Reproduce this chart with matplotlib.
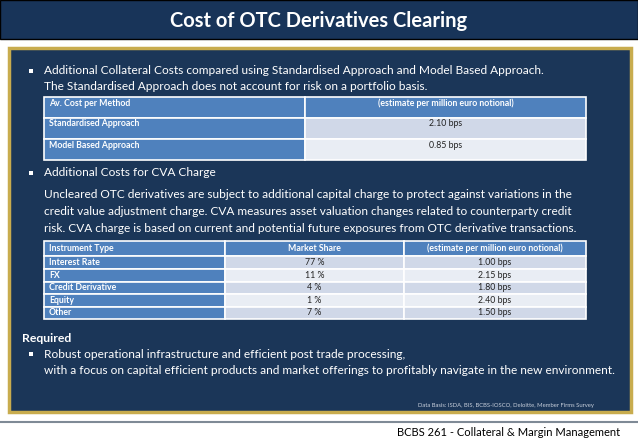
import matplotlib.pyplot as plt
from matplotlib.patches import Rectangle

FONT = "Lato"
NAVY = "#1b3658"
HEAD = "#183459"
BLUE = "#4f81bd"
LIGHT1 = "#d0d8e8"
LIGHT2 = "#e9edf4"
GOLD = "#c8ac4e"

title = "Cost of OTC Derivatives Clearing"
bullet1 = ["Additional Collateral Costs compared using Standardised Approach and Model Based Approach.",
           "The Standardised Approach does not account for risk on a portfolio basis."]
t1_header = ["Av. Cost per Method", "(estimate per million euro notional)"]
t1_methods = ["Standardised Approach", "Model Based Approach"]
t1_costs = ["2.10 bps", "0.85 bps"]
bullet2 = "Additional Costs for CVA Charge"
para = ["Uncleared OTC derivatives are subject to additional capital charge to protect against variations in the",
        "credit value adjustment charge. CVA measures asset valuation changes related to counterparty credit",
        "risk. CVA charge is based on current and potential future exposures from OTC derivative transactions."]
t2_header = ["Instrument Type", "Market Share", "(estimate per million euro notional)"]
t2_types = ["Interest Rate", "FX", "Credit Derivative", "Equity", "Other"]
t2_share = ["77 %", "11 %", "4 %", "1 %", "7 %"]
t2_costs = ["1.00 bps", "2.15 bps", "1.80 bps", "2.40 bps", "1.50 bps"]
req_title = "Required"
req_lines = ["Robust operational infrastructure and efficient post trade processing,",
             "with a focus on capital efficient products and market offerings to profitably navigate in the new environment."]
source = "Data Basis: ISDA, BIS, BCBS-IOSCO, Deloitte, Member Firms Survey"
footer = "BCBS 261 - Collateral & Margin Management"

fig = plt.figure(figsize=(6.38, 4.42), dpi=100)
ax = fig.add_axes([0, 0, 1, 1])
ax.set_xlim(0, 638)
ax.set_ylim(442, 0)
ax.axis("off")

# header band
ax.add_patch(Rectangle((0, 0), 638, 39, facecolor=HEAD, edgecolor="black", lw=1))
ax.text(319, 21, title, color="white", fontsize=14.5, fontweight="bold", family=FONT,
        ha="center", va="center")

# main panel
ax.add_patch(Rectangle((9, 48), 622, 364, facecolor=NAVY, edgecolor=GOLD, lw=2.5))

def txt(x, y, s, size=8.6, **kw):
    ax.text(x, y, s, color=kw.pop("color", "white"), fontsize=size, family=FONT,
            va="center", **kw)

def bullet(x, y):
    ax.add_patch(Rectangle((x - 1.8, y - 1.8), 3.6, 3.6, facecolor="white", edgecolor="none"))

bullet(31, 71)
for i, s in enumerate(bullet1):
    txt(44, 71 + i * 16, s)

def table(x0, cols, y0, heights, header, rows):
    y = y0
    allrows = [header] + rows
    for r, (cells, h) in enumerate(zip(allrows, heights)):
        for c in range(len(cols) - 1):
            if r == 0 or c == 0:
                fc = BLUE
            else:
                fc = LIGHT1 if r % 2 == 1 else LIGHT2
            ax.add_patch(Rectangle((cols[c], y), cols[c + 1] - cols[c], h,
                                   facecolor=fc, edgecolor="white", lw=1.2))
            col = "white" if fc == BLUE else "#222222"
            if c == 0:
                ax.text(cols[c] + 5, y + 6 if h > 15 else y + h / 2, cells[c], color=col,
                        fontsize=6.3, family=FONT, fontweight="bold", va="center")
            else:
                ax.text((cols[c] + cols[c + 1]) / 2, y + 6 if h > 15 else y + h / 2, cells[c],
                        color=col, fontsize=6.3, family=FONT,
                        fontweight="bold" if r == 0 else "normal", ha="center", va="center")
        y += h

table(44, [44, 305, 586], 97, [21, 21, 21], t1_header,
      [[m, c] for m, c in zip(t1_methods, t1_costs)])

bullet(31, 173)
txt(44, 173, bullet2)
for i, s in enumerate(para):
    txt(44, 195 + i * 16.5, s)

table(44, [44, 225, 404, 586], 241, [15, 13, 12.5, 12.5, 12.5, 12.5], t2_header,
      [[a, b, c] for a, b, c in zip(t2_types, t2_share, t2_costs)])

txt(22, 338, req_title, size=8.8, fontweight="bold")
bullet(31, 354)
for i, s in enumerate(req_lines):
    txt(44, 354 + i * 16, s)

ax.text(594, 405, source, color="#c8d0dc", fontsize=4.2, family=FONT, ha="right", va="center")

ax.plot([0, 638], [422, 422], color="#7f8a96", lw=1.5)
ax.text(620, 432, footer, color="black", fontsize=8, family=FONT, ha="right", va="center")

fig.savefig("out.png", dpi=100)
